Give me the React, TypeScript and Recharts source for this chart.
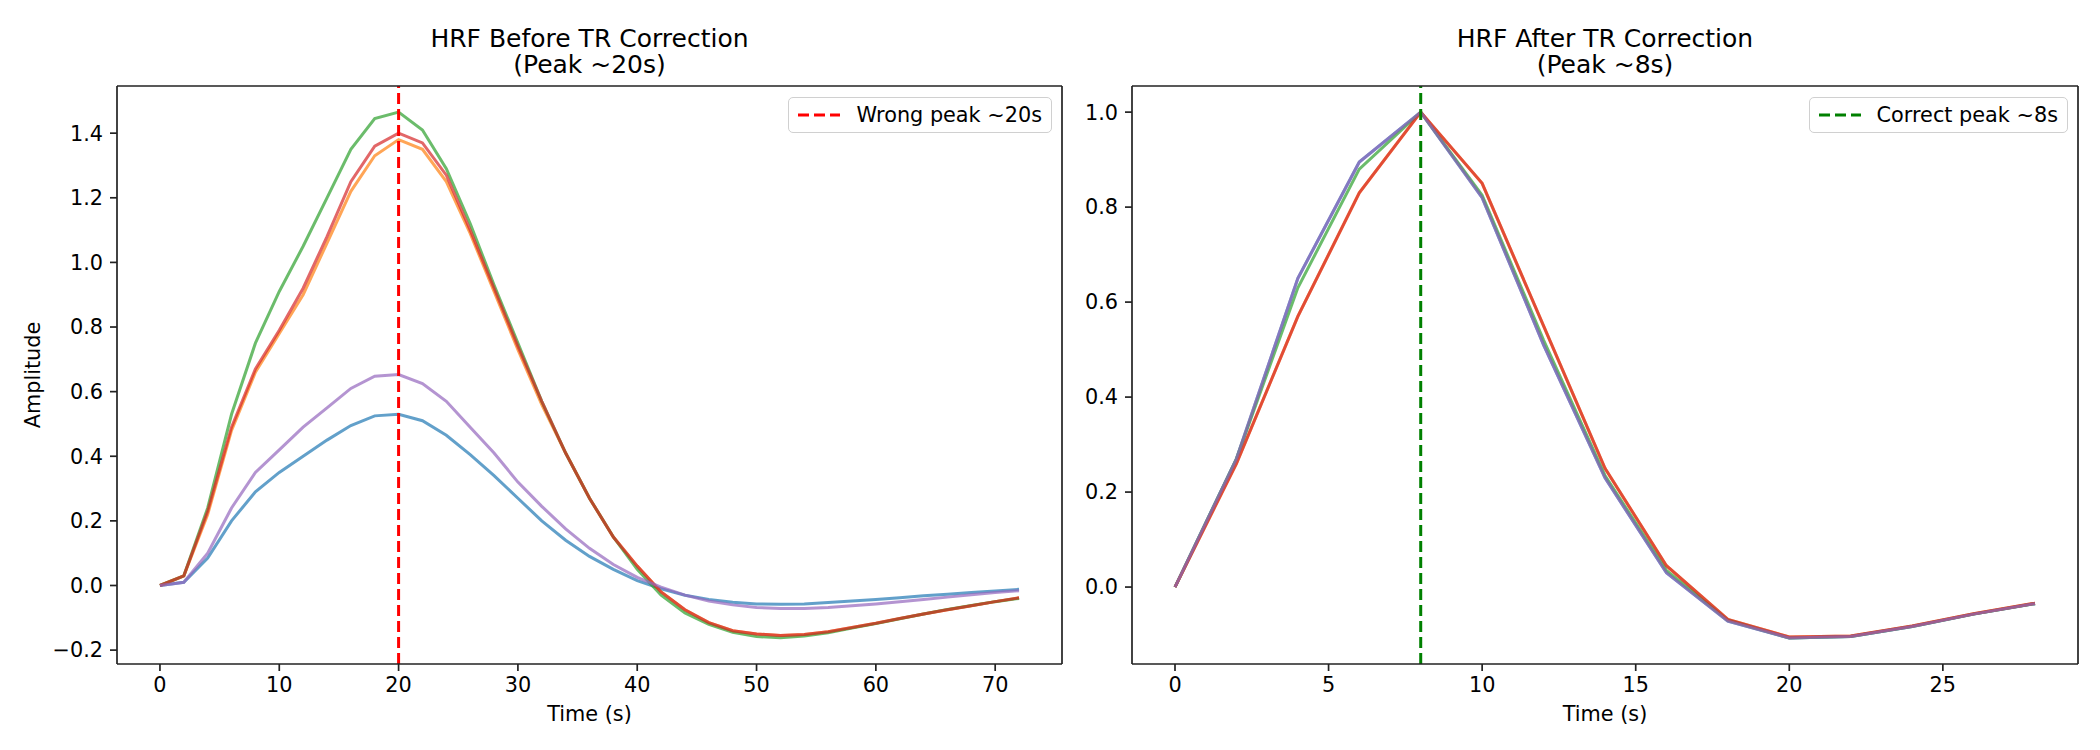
import { LineChart, Line, XAxis, YAxis, ReferenceLine } from 'recharts';

const timeBefore = [0, 2, 4, 6, 8, 10, 12, 14, 16, 18, 20, 22, 24, 26, 28, 30, 32, 34, 36, 38, 40, 42, 44, 46, 48, 50, 52, 54, 56, 58, 60, 62, 64, 66, 68, 70, 72];
const blueBefore = [0, 0.01, 0.085, 0.2, 0.29, 0.35, 0.4, 0.45, 0.495, 0.525, 0.53, 0.51, 0.465, 0.405, 0.34, 0.27, 0.2, 0.14, 0.09, 0.05, 0.015, -0.01, -0.03, -0.043, -0.052, -0.057, -0.058, -0.057, -0.053, -0.048, -0.043, -0.038, -0.032, -0.027, -0.022, -0.017, -0.012];
const orangeBefore = [0, 0.03, 0.22, 0.48, 0.66, 0.78, 0.9, 1.06, 1.22, 1.33, 1.38, 1.35, 1.25, 1.09, 0.91, 0.73, 0.56, 0.41, 0.27, 0.15, 0.06, -0.02, -0.075, -0.115, -0.14, -0.15, -0.155, -0.152, -0.143, -0.13, -0.117, -0.102, -0.088, -0.075, -0.063, -0.05, -0.038];
const greenBefore = [0, 0.03, 0.24, 0.53, 0.75, 0.91, 1.05, 1.2, 1.35, 1.445, 1.465, 1.41, 1.29, 1.12, 0.93, 0.75, 0.57, 0.41, 0.27, 0.15, 0.05, -0.03, -0.085, -0.12, -0.145, -0.158, -0.162, -0.156, -0.146, -0.132, -0.118, -0.103, -0.088, -0.074, -0.062, -0.05, -0.04];
const redBefore = [0, 0.03, 0.23, 0.49, 0.67, 0.79, 0.92, 1.08, 1.25, 1.36, 1.4, 1.37, 1.27, 1.1, 0.92, 0.74, 0.57, 0.41, 0.27, 0.15, 0.06, -0.02, -0.075, -0.115, -0.14, -0.15, -0.155, -0.152, -0.143, -0.13, -0.117, -0.102, -0.088, -0.075, -0.063, -0.05, -0.038];
const purpleBefore = [0, 0.01, 0.1, 0.24, 0.35, 0.42, 0.49, 0.55, 0.61, 0.648, 0.653, 0.625, 0.57, 0.49, 0.41, 0.32, 0.245, 0.175, 0.115, 0.065, 0.025, -0.005, -0.03, -0.048, -0.06, -0.068, -0.071, -0.071, -0.068, -0.063, -0.057, -0.05, -0.043, -0.036, -0.029, -0.022, -0.016];

const timeAfter = [0, 2, 4, 6, 8, 10, 12, 14, 16, 18, 20, 22, 24, 26, 28];
const blueAfter = [0, 0.27, 0.65, 0.895, 1.0, 0.82, 0.51, 0.23, 0.03, -0.072, -0.107, -0.104, -0.083, -0.057, -0.035];
const orangeAfter = [0, 0.26, 0.57, 0.83, 1.0, 0.85, 0.55, 0.25, 0.045, -0.068, -0.105, -0.103, -0.082, -0.056, -0.034];
const greenAfter = [0, 0.27, 0.63, 0.88, 1.0, 0.825, 0.52, 0.235, 0.035, -0.07, -0.107, -0.104, -0.083, -0.057, -0.035];
const redAfter = [0, 0.26, 0.57, 0.83, 1.0, 0.85, 0.55, 0.25, 0.045, -0.068, -0.105, -0.103, -0.082, -0.056, -0.034];
const purpleAfter = [0, 0.27, 0.65, 0.895, 1.0, 0.82, 0.51, 0.23, 0.03, -0.072, -0.107, -0.104, -0.083, -0.057, -0.035];

const ticksXBefore = [0, 10, 20, 30, 40, 50, 60, 70];
const ticksYBefore = [-0.2, 0, 0.2, 0.4, 0.6, 0.8, 1.0, 1.2, 1.4];
const ticksXAfter = [0, 5, 10, 15, 20, 25];
const ticksYAfter = [0, 0.2, 0.4, 0.6, 0.8, 1.0];

const xDomainBefore = [-3.6, 75.6];
const yDomainBefore = [-0.243, 1.546];
const xDomainAfter = [-1.4, 29.4];
const yDomainAfter = [-0.162, 1.055];

const SERIES = [
  { key: 'blue', color: '#1f77b4' },
  { key: 'orange', color: '#ff7f0e' },
  { key: 'green', color: '#2ca02c' },
  { key: 'red', color: '#d62728' },
  { key: 'purple', color: '#9467bd' },
];

const before = timeBefore.map((t, i) => ({
  t,
  blue: blueBefore[i],
  orange: orangeBefore[i],
  green: greenBefore[i],
  red: redBefore[i],
  purple: purpleBefore[i],
}));

const after = timeAfter.map((t, i) => ({
  t,
  blue: blueAfter[i],
  orange: orangeAfter[i],
  green: greenAfter[i],
  red: redAfter[i],
  purple: purpleAfter[i],
}));

const FONT = '"DejaVu Sans", sans-serif';
const INK = '#222';
const fmt = (v: number) => v.toFixed(1).replace('-', '\u2212');
const fmtInt = (v: number) => String(v);

const axisLine = { stroke: INK, strokeWidth: 1.7 };
const tickLine = { stroke: INK, strokeWidth: 1.7 };
const tickStyle = { fill: '#000', fontSize: 20.8, fontFamily: FONT };

const XLabel = (props: any) => {
  const { viewBox } = props;
  return (
    <text x={viewBox.x + viewBox.width / 2} y={714} textAnchor="middle" dominantBaseline="central" fontSize={20.8} fontFamily={FONT} fill="#000">
      Time (s)
    </text>
  );
};

const YLabel = (props: any) => {
  const { viewBox } = props;
  const cy = viewBox.y + viewBox.height / 2;
  return (
    <text x={33} y={cy} transform={`rotate(-90 33 ${cy})`} textAnchor="middle" dominantBaseline="central" fontSize={20.8} fontFamily={FONT} fill="#000">
      Amplitude
    </text>
  );
};

const LegendBox = ({ right, label, color }: { right: number; label: string; color: string }) => (
  <div
    style={{
      position: 'absolute',
      top: 97,
      right,
      border: '1.5px solid #d0d0d0',
      borderRadius: 5,
      background: 'rgba(255,255,255,0.8)',
      padding: '4px 9px 4px 9px',
      display: 'flex',
      alignItems: 'center',
      fontFamily: FONT,
      fontSize: 20.8,
      lineHeight: '26px',
      whiteSpace: 'nowrap',
    }}
  >
    <svg width={42} height={10} style={{ marginRight: 16 }}>
      <line x1={0} y1={5} x2={42} y2={5} stroke={color} strokeWidth={3} strokeDasharray="11 5" />
    </svg>
    {label}
  </div>
);

const Title = ({ cx, lines }: { cx: number; lines: string[] }) => (
  <div
    style={{
      position: 'absolute',
      top: 26,
      left: cx - 300,
      width: 600,
      textAlign: 'center',
      fontFamily: FONT,
      fontSize: 25,
      lineHeight: '26px',
      color: '#000',
    }}
  >
    {lines.map((l) => (
      <div key={l}>{l}</div>
    ))}
  </div>
);

export default function App() {
  return (
    <div style={{ position: 'absolute', left: 0, top: 0, width: 2100, height: 750, background: '#fff', fontFamily: FONT }}>
      <Title cx={589.5} lines={['HRF Before TR Correction', '(Peak ~20s)']} />
      <Title cx={1605} lines={['HRF After TR Correction', '(Peak ~8s)']} />

      <div style={{ position: 'absolute', left: 0, top: 0 }}>
        <LineChart width={1070} height={750} data={before} margin={{ top: 86, right: 8, bottom: 0, left: 0 }}>
          <XAxis
            dataKey="t"
            type="number"
            domain={xDomainBefore}
            allowDataOverflow
            ticks={ticksXBefore}
            tickFormatter={fmtInt}
            height={86}
            tickSize={7}
            tickMargin={6}
            axisLine={axisLine}
            tickLine={tickLine}
            tick={tickStyle}
            label={<XLabel />}
          />
          <YAxis
            type="number"
            domain={yDomainBefore}
            allowDataOverflow
            ticks={ticksYBefore}
            tickFormatter={fmt}
            width={117}
            tickSize={7}
            tickMargin={7}
            axisLine={axisLine}
            tickLine={tickLine}
            tick={tickStyle}
            label={<YLabel />}
          />
          {SERIES.map((s) => (
            <Line
              key={s.key}
              type="linear"
              dataKey={s.key}
              stroke={s.color}
              strokeOpacity={0.7}
              strokeWidth={3}
              dot={false}
              activeDot={false}
              isAnimationActive={false}
            />
          ))}
          <ReferenceLine x={20} stroke="#ff0000" strokeWidth={3} strokeDasharray="11 5" />
          <ReferenceLine y={yDomainBefore[1]} stroke={INK} strokeWidth={1.7} />
          <ReferenceLine x={xDomainBefore[1]} stroke={INK} strokeWidth={1.7} />
        </LineChart>
      </div>

      <div style={{ position: 'absolute', left: 1070, top: 0 }}>
        <LineChart width={1030} height={750} data={after} margin={{ top: 86, right: 22, bottom: 0, left: 0 }}>
          <XAxis
            dataKey="t"
            type="number"
            domain={xDomainAfter}
            allowDataOverflow
            ticks={ticksXAfter}
            tickFormatter={fmtInt}
            height={86}
            tickSize={7}
            tickMargin={6}
            axisLine={axisLine}
            tickLine={tickLine}
            tick={tickStyle}
            label={<XLabel />}
          />
          <YAxis
            type="number"
            domain={yDomainAfter}
            allowDataOverflow
            ticks={ticksYAfter}
            tickFormatter={fmt}
            width={62}
            tickSize={7}
            tickMargin={7}
            axisLine={axisLine}
            tickLine={tickLine}
            tick={tickStyle}
          />
          {SERIES.map((s) => (
            <Line
              key={s.key}
              type="linear"
              dataKey={s.key}
              stroke={s.color}
              strokeOpacity={0.7}
              strokeWidth={3}
              dot={false}
              activeDot={false}
              isAnimationActive={false}
            />
          ))}
          <ReferenceLine x={8} stroke="#008000" strokeWidth={3} strokeDasharray="11 5" />
          <ReferenceLine y={yDomainAfter[1]} stroke={INK} strokeWidth={1.7} />
          <ReferenceLine x={xDomainAfter[1]} stroke={INK} strokeWidth={1.7} />
        </LineChart>
      </div>

      <LegendBox right={2100 - 1052} label="Wrong peak ~20s" color="#ff0000" />
      <LegendBox right={2100 - 2068} label="Correct peak ~8s" color="#008000" />
    </div>
  );
}
